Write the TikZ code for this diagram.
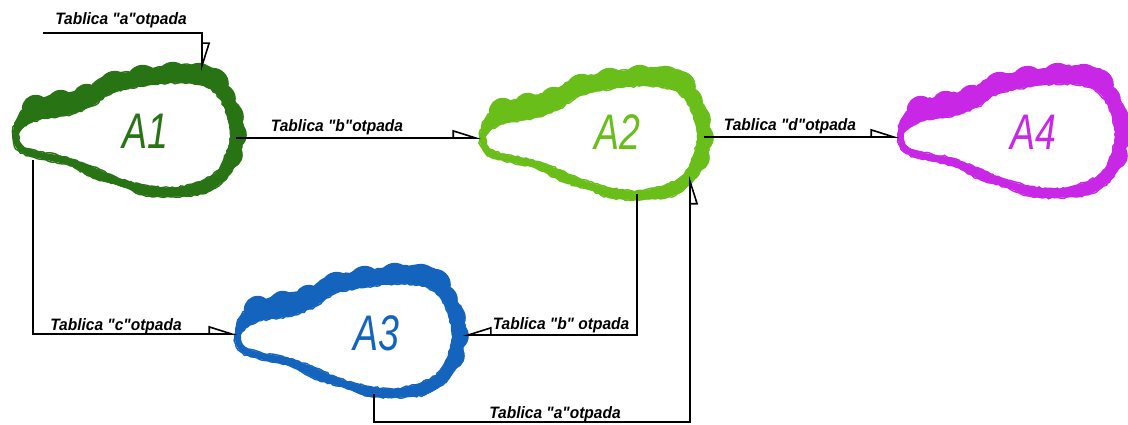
\documentclass[tikz,border=0pt]{standalone}
\usepackage{fontspec}
\newfontfamily\labfont{Liberation Sans}
\usetikzlibrary{arrows.meta,decorations.pathmorphing}
\definecolor{cA}{RGB}{40,115,20}
\definecolor{cB}{RGB}{105,190,25}
\definecolor{cC}{RGB}{20,100,190}
\definecolor{cD}{RGB}{200,40,230}
\newcommand{\edgetxt}[1]{\scalebox{0.94}[1]{#1}}
\tikzset{
  pics/cloudpic/.style={code={
    % outer body
    \fill[#1] plot[smooth cycle, tension=0.55] coordinates {
      (0,69) (2,58) (7,49) (15,41) (26,35) (47,29) (73,24) (86,15) (100,10) (130,5) (150,2) (177,0) (196,2) (206,7) (212,20) (220,33) (227,44) (230,64) (228,84) (220,104) (210,117) (190,129) (157,132) (130,130) (110,122) (83,114) (57,101) (33,95) (16,91) (6,86) (1,78)};
    \draw[#1, line width=1.4pt, decorate, decoration={random steps, segment length=3pt, amplitude=1pt}]
      plot[smooth cycle, tension=0.55] coordinates {
      (0,69) (2,58) (7,49) (15,41) (26,35) (47,29) (73,24) (86,15) (100,10) (130,5) (150,2) (177,0) (196,2) (206,7) (212,20) (220,33) (227,44) (230,64) (228,84) (220,104) (210,117) (190,129) (157,132) (130,130) (110,122) (83,114) (57,101) (33,95) (16,91) (6,86) (1,78)};
    % scallops on the upper side
    \foreach \cx/\cy/\r in {23/44/14, 48/39/14, 74/33/14, 102/22/16, 130/16/16, 160/13/16, 186/14/16, 200/19/16, 208/34/15, 216/52/15, 219/70/15, 216/90/14}
      \fill[#1] (\cx,\cy) circle[radius=\r];
    % white inside
    \fill[white] plot[smooth cycle, tension=0.55] coordinates {
      (6,69) (13,61) (26,55) (45,52) (60,49) (80,41) (100,28) (133,21) (167,18) (193,22) (207,34) (215,54) (217,74) (210,97) (200,110) (180,119) (157,123) (130,120) (103,112) (80,102) (53,92) (27,87) (10,81)};
    \draw[#1, line width=1.4pt, decorate, decoration={random steps, segment length=3pt, amplitude=1pt}]
      plot[smooth cycle, tension=0.55] coordinates {
      (6,69) (13,61) (26,55) (45,52) (60,49) (80,41) (100,28) (133,21) (167,18) (193,22) (207,34) (215,54) (217,74) (210,97) (200,110) (180,119) (157,123) (130,120) (103,112) (80,102) (53,92) (27,87) (10,81)};
  }},
  cloudbox/.style={minimum width=230pt, minimum height=132pt, inner sep=0pt, draw=none},
  biglabel/.style={font=\labfont\fontsize{50}{50}\selectfont\itshape, inner sep=0pt},
  edgelabel/.style={font=\labfont\fontsize{16.5}{16.5}\selectfont\bfseries\itshape, inner sep=0pt, anchor=base},
  conn/.style={line width=2.5pt, line join=miter},
  tipL/.style={-{Triangle[open, length=26pt, width=16pt, left, line width=1.6pt]}},
  tipR/.style={-{Triangle[open, length=26pt, width=16pt, right, line width=1.6pt]}},
}
\begin{document}
\begin{tikzpicture}[x=1pt, y=-1pt]
\useasboundingbox (0,0) rectangle (1128,425);
% clouds
\node[cloudbox] (A1) at (128,131) {};
\node[cloudbox] (A2) at (595,134) {};
\node[cloudbox] (A3) at (350,332) {};
\node[cloudbox] (A4) at (1013,132) {};
\pic at (A1.north west) {cloudpic=cA};
\pic at (A2.north west) {cloudpic=cB};
\pic at (A3.north west) {cloudpic=cC};
\pic at (A4.north west) {cloudpic=cD};
\node[biglabel, text=cA] (L1) at (145,131) {\scalebox{0.75}[1]{A1}};
\node[biglabel, text=cB] (L2) at (617,132) {\scalebox{0.75}[1]{A2}};
\node[biglabel, text=cC] (L3) at (376,333) {\scalebox{0.75}[1]{A3}};
\node[biglabel, text=cD] (L4) at (1033,132) {\scalebox{0.75}[1]{A4}};
% connection points
\coordinate (ain) at (43,33);
\coordinate (A1t) at (202,71);
\coordinate (A1r) at (236,138);
\coordinate (A1b) at (33,160);
\coordinate (A2l) at (481,138);
\coordinate (A2r) at (704,137);
\coordinate (A2b) at (637,194);
\coordinate (A2bb) at (690,176);
\coordinate (A3l) at (237,334);
\coordinate (A3r) at (463,335);
\coordinate (A3b) at (374,394);
\coordinate (A4l) at (899,137);
% connectors
\draw[conn, tipL] (ain) -| (A1t);
\draw[conn, tipL] (A1r) -- (A2l);
\draw[conn, tipL] (A2r) -- (A4l);
\draw[conn, tipL] (A1b) |- (A3l);
\draw[conn, tipR] (A2b) |- (A3r);
\draw[conn, tipR] (A3b) -- (374,422) -| (A2bb);
% labels
\node[edgelabel] (ta) at (121,25) {\edgetxt{Tablica "a"otpada}};
\node[edgelabel] (tb) at (337,132) {\edgetxt{Tablica "b"otpada}};
\node[edgelabel] (td) at (790,131) {\edgetxt{Tablica "d"otpada}};
\node[edgelabel] (tc) at (116,330) {\edgetxt{Tablica "c"otpada}};
\node[edgelabel] (tb2) at (561,329) {\edgetxt{Tablica "b" otpada}};
\node[edgelabel] (ta2) at (555,418) {\edgetxt{Tablica "a"otpada}};
\end{tikzpicture}
\end{document}
